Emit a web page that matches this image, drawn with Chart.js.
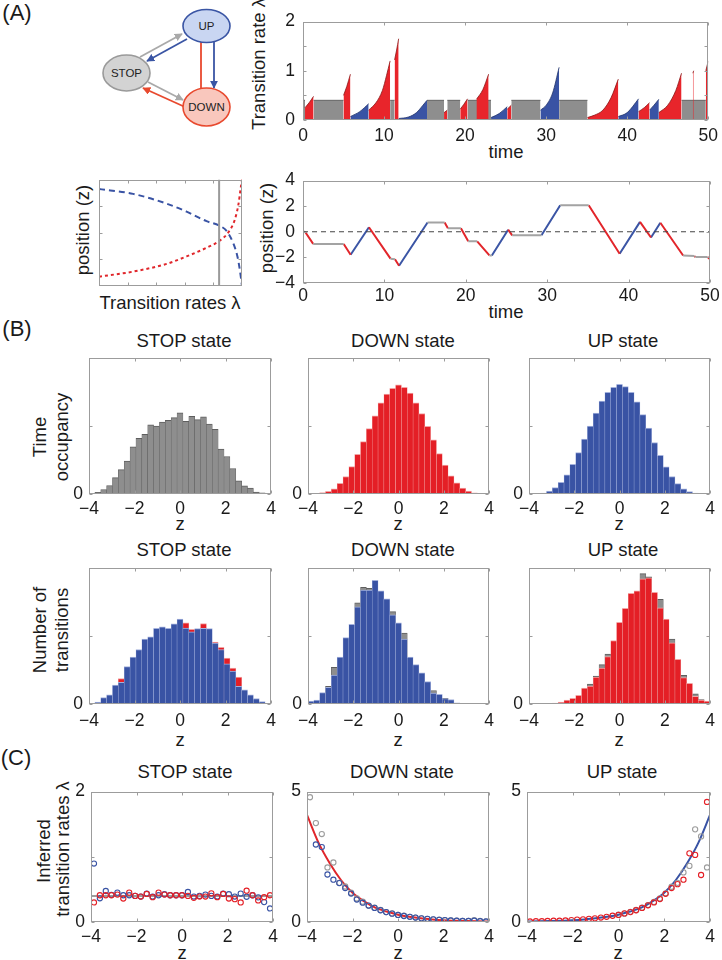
<!DOCTYPE html>
<html><head><meta charset="utf-8">
<script src="https://cdn.jsdelivr.net/npm/chart.js@4.4.1/dist/chart.umd.min.js"></script>
<style>
body{margin:0;background:#fff;width:722px;height:960px;overflow:hidden;position:relative;font-family:"Liberation Sans",Arial,Helvetica,sans-serif;color:#1a1a1a}
.t{position:absolute;transform:translate(-50%,-50%);white-space:nowrap;font-size:18.5px;line-height:1}
.v{transform:translate(-50%,-50%) rotate(-90deg)}
.p{font-size:22px}
canvas{position:absolute}
</style></head><body>
<svg width="250" height="140" style="position:absolute;left:0;top:0">
<defs>
<marker id="ag" viewBox="0 0 10 10" refX="9" refY="5" markerWidth="4.5" markerHeight="4.5" orient="auto"><path d="M0,0L10,5L0,10z" fill="#a9a9a9"/></marker>
<marker id="ab" viewBox="0 0 10 10" refX="9" refY="5" markerWidth="4.5" markerHeight="4.5" orient="auto"><path d="M0,0L10,5L0,10z" fill="#3a55a4"/></marker>
<marker id="ar" viewBox="0 0 10 10" refX="9" refY="5" markerWidth="4.5" markerHeight="4.5" orient="auto"><path d="M0,0L10,5L0,10z" fill="#e8492e"/></marker>
</defs>
<line x1="140" y1="57" x2="182" y2="34" stroke="#a9a9a9" stroke-width="1.8" marker-end="url(#ag)"/>
<line x1="187" y1="39" x2="147" y2="61" stroke="#3a55a4" stroke-width="1.8" marker-end="url(#ab)"/>
<line x1="148" y1="82" x2="183" y2="100" stroke="#a9a9a9" stroke-width="1.8" marker-end="url(#ag)"/>
<line x1="185" y1="107" x2="143" y2="88" stroke="#e8492e" stroke-width="1.8" marker-end="url(#ar)"/>
<line x1="201" y1="89" x2="201" y2="34" stroke="#e8492e" stroke-width="1.8" marker-end="url(#ar)"/>
<line x1="214" y1="42" x2="214" y2="88" stroke="#3a55a4" stroke-width="1.8" marker-end="url(#ab)"/>
<ellipse cx="206.5" cy="26" rx="23.5" ry="16.5" fill="#c9d6f2" stroke="#3a55a4" stroke-width="1.6"/>
<ellipse cx="126.5" cy="73" rx="23.5" ry="18" fill="#d3d3d3" stroke="#9a9a9a" stroke-width="1.6"/>
<ellipse cx="206.5" cy="107" rx="23.5" ry="19" fill="#f9c7bd" stroke="#e8492e" stroke-width="1.6"/>
<text x="206.5" y="30" text-anchor="middle" font-size="11.5" fill="#222">UP</text>
<text x="126.5" y="77" text-anchor="middle" font-size="11.5" fill="#222">STOP</text>
<text x="206.5" y="111" text-anchor="middle" font-size="11.5" fill="#222">DOWN</text>
</svg>

<div class="t p" style="left:17px;top:13px">(A)</div>
<div class="t p" style="left:17px;top:329px">(B)</div>
<div class="t p" style="left:16px;top:758px">(C)</div>

<div class="t v" style="left:259px;top:64px">Transition rate λ</div>
<div class="t" style="left:506px;top:152px">time</div>
<div class="t v" style="left:83px;top:230px">position (z)</div>
<div class="t" style="left:170px;top:303px">Transition rates λ</div>
<div class="t v" style="left:267px;top:228px">position (z)</div>
<div class="t" style="left:506px;top:312px">time</div>

<div class="t" style="left:184px;top:341px">STOP state</div>
<div class="t" style="left:403px;top:341px">DOWN state</div>
<div class="t" style="left:623px;top:341px">UP state</div>
<div class="t v" style="left:40px;top:437px">Time</div>
<div class="t v" style="left:62px;top:437px">occupancy</div>
<div class="t" style="left:180px;top:524px">z</div>
<div class="t" style="left:398px;top:524px">z</div>
<div class="t" style="left:619px;top:524px">z</div>

<div class="t" style="left:184px;top:550px">STOP state</div>
<div class="t" style="left:403px;top:550px">DOWN state</div>
<div class="t" style="left:623px;top:550px">UP state</div>
<div class="t v" style="left:40px;top:630px">Number of</div>
<div class="t v" style="left:62px;top:630px">transitions</div>
<div class="t" style="left:180px;top:740px">z</div>
<div class="t" style="left:398px;top:740px">z</div>
<div class="t" style="left:619px;top:740px">z</div>

<div class="t" style="left:185px;top:772px">STOP state</div>
<div class="t" style="left:402px;top:772px">DOWN state</div>
<div class="t" style="left:622px;top:772px">UP state</div>
<div class="t v" style="left:44px;top:851px">Inferred</div>
<div class="t v" style="left:63px;top:849px">transition rates λ</div>
<div class="t" style="left:182px;top:953px">z</div>
<div class="t" style="left:398px;top:953px">z</div>
<div class="t" style="left:618px;top:953px">z</div>

<script>
// ---------------- DATA ----------------
const TIME_TICKS = [0, 10, 20, 30, 40, 50];
const Z_TICKS = [-4, -2, 0, 2, 4];
const BIN_CENTERS = [-3.87,-3.61,-3.35,-3.10,-2.84,-2.58,-2.32,-2.06,-1.81,-1.55,-1.29,-1.03,-0.77,-0.52,-0.26,0,0.26,0.52,0.77,1.03,1.29,1.55,1.81,2.06,2.32,2.58,2.84,3.10,3.35,3.61,3.87];

// Panel A: transition rate vs time
const STOP_RATE = 0.4;
const RATE_GRAY = [[0,0.25],[1.3,5.0],[10.75,11.3],[15.3,17.4],[17.8,19.4],[20.3,23.2],[25.7,29.3],[31.6,35.1],[46.7,49.7]];
const RATE_RED = [
  [[0.25,0.25],[0.8,0.36],[1.3,0.48]],
  [[5.0,0.5],[5.4,0.68],[5.85,0.93]],
  [[8.1,0.2],[9.0,0.35],[9.8,0.6],[10.3,0.9],[10.75,1.2]],
  [[11.3,1.22],[11.55,1.42],[11.8,1.65]],
  [[17.4,0.15],[17.8,0.2]],
  [[19.4,0.22],[19.85,0.32],[20.3,0.43]],
  [[21.4,0.42],[22.2,0.62],[22.9,0.93]],
  [[25.2,0.22],[25.7,0.3]],
  [[35.1,0.05],[36,0.1],[37,0.2],[38,0.45],[38.9,0.83]],
  [[41.4,0.17],[42.1,0.25],[42.75,0.35]],
  [[43.9,0.15],[45,0.3],[46,0.6],[46.7,0.95]],
  [[48.1,0.95],[48.2,1.0]],
  [[49.7,1.0],[50,1.2]]
];
const RATE_BLUE = [
  [[5.85,0.07],[7.0,0.17],[8.1,0.33]],
  [[11.8,0.03],[13,0.06],[14,0.15],[14.8,0.3],[15.3,0.4]],
  [[23.2,0.05],[24.2,0.13],[25.2,0.27]],
  [[29.3,0.2],[30,0.3],[30.8,0.55],[31.6,1.07]],
  [[38.9,0.07],[40,0.15],[41.4,0.43]],
  [[42.75,0.2],[43.3,0.3],[43.9,0.42]]
];

// Panel A: position trajectory
const TRAJ_T = [0,0.25,1.25,5.0,5.85,8.1,10.75,11.3,11.8,15.3,17.4,17.8,19.4,20.3,21.4,22.9,23.2,25.2,25.7,29.3,31.6,35.1,38.9,41.4,42.75,43.9,46.7,48.1,48.2,49.7,50];
const TRAJ_Z = [0,0,-0.95,-0.95,-1.8,0.35,-2.1,-2.15,-2.65,0.72,0.72,0.28,0.28,-0.75,-0.75,-1.85,-1.85,0.16,-0.28,-0.28,2.07,2.07,-1.72,0.77,-0.45,0.7,-1.85,-1.9,-1.98,-1.98,-2.15];
const TRAJ_STATE = ['G','R','G','R','B','R','G','R','B','G','R','G','R','G','R','G','B','R','G','B','G','R','B','R','B','R','G','R','G','R'];

// Panel A: rate functions vs position
const LAMBDA_UP_X = [0,0.119,0.236,0.306,0.376,0.423,0.446,0.47,0.484,0.493,0.5];
const LAMBDA_UP_Z = [3.28,2.92,2.19,1.59,0.87,0.51,0.14,-0.82,-1.78,-2.87,-4];
const LAMBDA_DOWN_X = [0,0.119,0.236,0.306,0.376,0.423,0.452,0.475,0.488,0.495,0.5];
const LAMBDA_DOWN_Z = [-3.3,-2.92,-2.34,-1.78,-1.13,-0.58,0.02,0.99,2.19,3.28,4];
const STOP_LAMBDA_MARK = 0.42;

// Panel B: time occupancy
const OCC_STOP = [0,0.012,0.033,0.062,0.12,0.178,0.242,0.346,0.408,0.438,0.507,0.498,0.526,0.54,0.559,0.595,0.533,0.569,0.545,0.566,0.512,0.474,0.329,0.275,0.187,0.097,0.059,0.043,0.014,0.009,0.003];
const OCC_DOWN = [0.002,0.005,0.01,0.019,0.038,0.078,0.128,0.2,0.29,0.384,0.479,0.573,0.668,0.732,0.775,0.799,0.782,0.739,0.668,0.59,0.495,0.396,0.296,0.211,0.133,0.081,0.043,0.021,0.009,0.005,0.002];
const OCC_UP = [0.001,0.003,0.007,0.021,0.047,0.085,0.14,0.218,0.303,0.403,0.498,0.592,0.68,0.744,0.782,0.803,0.787,0.744,0.675,0.581,0.483,0.377,0.284,0.199,0.128,0.076,0.038,0.017,0.007,0.003,0.001];

// Panel B: number of transitions
const TR_STOP_BLUE = [0.002,0.014,0.047,0.068,0.139,0.158,0.274,0.344,0.399,0.476,0.493,0.554,0.566,0.554,0.587,0.623,0.557,0.528,0.552,0.554,0.552,0.446,0.399,0.295,0.241,0.13,0.104,0.068,0.04,0.017,0.005];
const TR_STOP_RED = [null,null,null,null,null,0.186,null,null,null,null,null,null,null,null,null,null,0.594,0.547,null,0.59,null,0.453,0.415,0.337,0.264,0.198,null,null,null,null,null];
const TR_DOWN_BLUE = [0.021,0.028,0.083,0.123,0.212,0.344,0.486,0.583,0.712,0.835,0.835,0.906,0.83,0.771,0.653,0.594,0.476,0.344,0.288,0.229,0.165,0.08,0.071,0.04,0.033,0.009,0.005,0.003,0.002,0.002,0.001];
const TR_DOWN_GRAY = [null,null,null,0.13,0.269,null,null,null,0.741,0.854,0.847,null,null,null,0.677,null,0.519,null,null,null,null,0.099,null,0.042,null,null,null,null,null,null,null];
const TR_UP_RED = [0.002,0.003,0.004,0.005,0.007,0.014,0.028,0.042,0.064,0.116,0.132,0.198,0.264,0.347,0.465,0.599,0.7,0.811,0.83,0.917,0.925,0.818,0.705,0.623,0.448,0.328,0.193,0.151,0.057,0.028,0.021];
const TR_UP_GRAY = [null,null,null,null,null,null,null,null,null,null,0.146,0.205,0.288,0.366,null,null,null,null,null,0.955,0.932,null,0.767,null,0.476,null,0.21,null,0.075,0.033,null];

// Panel C: inferred transition rates
const C_STOP_BLUE = [0.896,0.363,0.475,0.416,0.45,0.41,0.41,0.40,0.39,0.435,0.39,0.41,0.426,0.41,0.41,0.41,0.46,0.39,0.40,0.42,0.40,0.39,0.436,0.426,0.39,0.436,0.387,0.41,0.378,0.305,0.208];
const C_STOP_RED = [0.30,0.41,0.41,0.41,0.42,0.36,0.45,0.40,0.39,0.43,0.38,0.45,0.42,0.41,0.41,0.41,0.40,0.37,0.39,0.39,0.44,0.38,0.43,0.36,0.35,0.30,0.48,0.41,0.33,0.38,0.41];
const CURVE_Z = [-4,-3.5,-3,-2.5,-2,-1.5,-1,-0.5,0,0.5,1,1.5,2,2.5,3,3.5,4];
const C_DOWN_CURVE = [4.1,3.05,2.25,1.6,1.12,0.8,0.55,0.4,0.28,0.2,0.14,0.1,0.07,0.05,0.035,0.025,0.018];
const C_DOWN_BLUE = [null,2.97,2.87,1.82,1.62,1.49,1.3,1.09,0.86,0.74,0.63,0.54,0.45,0.38,0.32,0.27,0.23,0.2,0.17,0.14,0.12,0.1,0.08,0.07,0.06,0.05,0.04,0.04,0.05,0.03,0.02];
const C_DOWN_GRAY = [4.78,3.79,3.37,2.09,2.28,1.5,1.36,1.12,0.9,0.78,0.62,0.55,0.46,0.38,0.33,0.27,0.24,0.2,0.17,0.14,0.12,0.1,0.09,0.07,0.06,0.05,0.04,0.04,0.07,0.04,0.02];
const C_UP_CURVE = [0.018,0.025,0.035,0.05,0.07,0.1,0.14,0.2,0.28,0.4,0.55,0.8,1.12,1.6,2.25,3.05,4.1];
const C_UP_RED = [0.02,0.03,0.03,0.04,0.05,0.05,0.06,0.07,0.09,0.1,0.12,0.14,0.17,0.2,0.24,0.27,0.33,0.38,0.45,0.54,0.64,0.75,0.88,1.08,1.3,1.45,1.62,2.63,2.57,1.8,4.6];
const C_UP_GRAY = [null,null,null,null,null,null,null,null,null,null,null,null,null,null,null,0.28,0.32,0.39,0.46,0.55,0.65,0.77,0.9,1.1,1.35,1.5,1.9,2.15,3.55,3.28,2.09];

// ---------------- COLOURS ----------------
const RED = '#e41f26', BLUE = '#3953a4', GRAY = '#8e8e8e';

// ---------------- HELPERS ----------------
Chart.defaults.animation = false;
Chart.defaults.font.family = '"Liberation Sans", Arial, Helvetica, sans-serif';
Chart.defaults.font.size = 17.5;
Chart.defaults.color = '#1a1a1a';
Chart.defaults.plugins.legend.display = false;
Chart.defaults.plugins.tooltip.enabled = false;
Chart.defaults.events = [];

const mbox = {
  id: 'mbox',
  afterDatasetsDraw(chart, args, o) {
    const {ctx, chartArea: a, scales} = chart;
    const xs = scales[o.xId || 'x'], ys = scales.y, tl = 3;
    const L = Math.round(a.left) + 0.5, R = Math.round(a.right) - 0.5, T = Math.round(a.top) + 0.5, B = Math.round(a.bottom) - 0.5;
    ctx.save();
    ctx.strokeStyle = '#9c9c9c'; ctx.lineWidth = 1;
    ctx.strokeRect(L, T, R - L, B - T);
    ctx.beginPath();
    (o.xt || []).forEach(v => { const p = Math.round(xs.getPixelForValue(v)) + 0.5; ctx.moveTo(p, B); ctx.lineTo(p, B - tl); ctx.moveTo(p, T); ctx.lineTo(p, T + tl); });
    (o.yt || []).forEach(v => { const p = Math.round(ys.getPixelForValue(v)) + 0.5; ctx.moveTo(L, p); ctx.lineTo(L + tl, p); ctx.moveTo(R, p); ctx.lineTo(R - tl, p); });
    ctx.stroke();
    ctx.restore();
  }
};

const fmt = v => (v < 0 ? '\u2212' : '') + Math.abs(v);
function lin(min, max, ticks, labelFn, pad, extra) {
  return Object.assign({
    type: 'linear', min, max, offset: false,
    grid: {display: false, drawTicks: false, offset: false}, border: {display: false},
    afterBuildTicks: s => { s.ticks = ticks.map(v => ({value: v})); },
    ticks: {padding: pad, maxRotation: 0, autoSkip: false, callback: v => labelFn(v)}
  }, extra || {});
}

function mk(rect, config, pads) {
  const [L, T, R, B] = rect;
  const [pl, pt, pr, pb] = pads || [40, 12, 14, 40];
  const W = R - L + pl + pr, H = B - T + pt + pb;
  const c = document.createElement('canvas');
  c.width = W; c.height = H;
  c.style.left = (L - pl) + 'px'; c.style.top = (T - pt) + 'px';
  c.style.width = W + 'px'; c.style.height = H + 'px';
  document.body.appendChild(c);
  const o = config.options;
  o.responsive = false; o.devicePixelRatio = 1;
  o.layout = {padding: {left: 0, top: pt, right: pr, bottom: 0}, autoPadding: false};
  for (const [id, s] of Object.entries(o.scales)) {
    if (s.display === false) continue;
    const horiz = s.position ? (s.position === 'bottom' || s.position === 'top') : id.startsWith('x');
    s.afterFit = sc => { if (horiz) sc.height = pb; else sc.width = pl; };
  }
  config.plugins = [mbox];
  return new Chart(c, config);
}

function segData(segs) {
  const out = [];
  segs.forEach(s => { s.forEach(p => out.push({x: p[0], y: p[1]})); out.push({x: s[s.length - 1][0], y: null}); });
  return out;
}
function trajData(state) {
  const out = [];
  for (let i = 0; i < TRAJ_STATE.length; i++) if (TRAJ_STATE[i] === state) {
    out.push({x: TRAJ_T[i], y: TRAJ_Z[i]}, {x: TRAJ_T[i + 1], y: TRAJ_Z[i + 1]}, {x: TRAJ_T[i + 1], y: null});
  }
  return out;
}
const pts = (xs, ys) => xs.map((x, i) => ({x, y: ys[i]}));

// ---------------- PANEL A ----------------
mk([303, 15, 710, 120], {
  type: 'line',
  data: {datasets: [
    {data: segData(RATE_GRAY.map(g => [[g[0], STOP_RATE], [g[1], STOP_RATE]])), fill: 'origin', backgroundColor: '#8e8e8e', borderColor: '#505050', borderWidth: 0.8, pointRadius: 0, order: 3},
    {data: segData(RATE_RED), fill: 'origin', backgroundColor: '#e8252b', borderColor: '#8a1515', borderWidth: 0.8, pointRadius: 0, cubicInterpolationMode: 'monotone', order: 1},
    {data: segData(RATE_BLUE), fill: 'origin', backgroundColor: BLUE, borderColor: '#22336a', borderWidth: 0.8, pointRadius: 0, cubicInterpolationMode: 'monotone', order: 2}
  ]},
  options: {spanGaps: false, scales: {
    x: lin(0, 50, TIME_TICKS, fmt, 6),
    y: lin(0, 2, [0, 1, 2], fmt, 8)
  }, plugins: {mbox: {xt: TIME_TICKS, yt: [0, 0.5, 1, 1.5, 2]}}}
});

mk([99, 175, 242, 286], {
  type: 'line',
  data: {datasets: [
    {data: [{x: STOP_LAMBDA_MARK, y: -4}, {x: STOP_LAMBDA_MARK, y: 4}], borderColor: '#9a9a9a', borderWidth: 2, pointRadius: 0},
    {data: pts(LAMBDA_UP_X, LAMBDA_UP_Z), borderColor: BLUE, borderWidth: 2, borderDash: [6, 4], pointRadius: 0, cubicInterpolationMode: 'monotone'},
    {data: pts(LAMBDA_DOWN_X, LAMBDA_DOWN_Z), borderColor: '#e0262b', borderWidth: 2, borderDash: [3, 3], pointRadius: 0, cubicInterpolationMode: 'monotone'}
  ]},
  options: {scales: {
    x: lin(0, 0.5, [0, 0.1, 0.2, 0.3, 0.4, 0.5], () => '', 6),
    y: lin(-4, 4, Z_TICKS, () => '', 6)
  }, plugins: {mbox: {xt: [0.1, 0.2, 0.3, 0.4], yt: [-2, 0, 2]}}}
});

mk([303, 174, 710, 283], {
  type: 'line',
  data: {datasets: [
    {data: [{x: 0, y: 0}, {x: 50, y: 0}], borderColor: '#444', borderWidth: 1, borderDash: [5, 4], pointRadius: 0},
    {data: trajData('G'), borderColor: '#a3a3a3', borderWidth: 2, pointRadius: 0},
    {data: trajData('R'), borderColor: '#e2262b', borderWidth: 2, pointRadius: 0},
    {data: trajData('B'), borderColor: '#3b55a5', borderWidth: 2, pointRadius: 0}
  ]},
  options: {spanGaps: false, scales: {
    x: lin(0, 50, TIME_TICKS, fmt, 3),
    y: lin(-4, 4, Z_TICKS, fmt, 8)
  }, plugins: {mbox: {xt: TIME_TICKS, yt: Z_TICKS}}}
});

// ---------------- PANEL B ----------------
function barChart(rect, datasets, xpad) {
  return mk(rect, {
    type: 'bar',
    data: {labels: BIN_CENTERS.map(String), datasets: datasets.map(d => Object.assign({
      grouped: false, barPercentage: 1, categoryPercentage: 1,
      borderWidth: {top: 1, left: 0.5, right: 0.5, bottom: 0}, borderSkipped: false
    }, d))},
    options: {scales: {
      x: {type: 'category', display: false, offset: true},
      x2: lin(-4, 4, Z_TICKS, fmt, xpad, {position: 'bottom'}),
      y: lin(0, 1, [0, 0.5, 1], v => v === 0 ? '0' : '', 6)
    }, plugins: {mbox: {xId: 'x2', xt: Z_TICKS, yt: [0, 0.5, 1]}}}
  });
}
const GB = {backgroundColor: GRAY, borderColor: '#5e5e5e'};
const RB = {backgroundColor: RED, borderColor: '#f2a3a3'};
const BB = {backgroundColor: BLUE, borderColor: '#a3b1dc'};

barChart([89, 353, 271, 494], [Object.assign({data: OCC_STOP}, GB)], 5);
barChart([308, 353, 489, 494], [Object.assign({data: OCC_DOWN}, RB)], 5);
barChart([529, 353, 710, 494], [Object.assign({data: OCC_UP}, BB)], 5);

barChart([89, 563, 271, 704], [Object.assign({data: TR_STOP_BLUE, order: 1}, BB), Object.assign({data: TR_STOP_RED, order: 2}, RB)], 7);
barChart([308, 563, 489, 704], [Object.assign({data: TR_DOWN_BLUE, order: 1}, BB), Object.assign({data: TR_DOWN_GRAY, order: 2}, GB)], 7);
barChart([529, 563, 710, 704], [Object.assign({data: TR_UP_RED, order: 1}, RB), Object.assign({data: TR_UP_GRAY, order: 2}, GB)], 7);

// ---------------- PANEL C ----------------
function circles(vals, color, order) {
  return {data: BIN_CENTERS.map((x, i) => ({x, y: vals[i]})), showLine: false, pointStyle: 'circle', pointRadius: 2.6,
    pointBorderWidth: 1.1, borderColor: color, backgroundColor: 'rgba(0,0,0,0)', order};
}
function cChart(rect, ymax, datasets) {
  return mk(rect, {
    type: 'scatter',
    data: {datasets},
    options: {scales: {
      x: lin(-4, 4, Z_TICKS, fmt, 5),
      y: lin(0, ymax, [0, ymax / 2, ymax], v => (v === 0 || v === ymax) ? String(v) : '', 6)
    }, plugins: {mbox: {xt: Z_TICKS, yt: [0, ymax / 2, ymax]}}}
  });
}
cChart([91, 787, 273, 922], 2, [
  {data: [{x: -4, y: STOP_RATE}, {x: 4, y: STOP_RATE}], showLine: true, borderColor: '#9c9c9c', borderWidth: 2, pointRadius: 0, order: 5},
  circles(C_STOP_BLUE, BLUE, 3),
  circles(C_STOP_RED, RED, 2)
]);
cChart([307, 787, 489, 922], 5, [
  {data: pts(CURVE_Z, C_DOWN_CURVE), showLine: true, borderColor: '#e0262b', borderWidth: 2, pointRadius: 0, cubicInterpolationMode: 'monotone', order: 5},
  circles(C_DOWN_GRAY, '#9c9c9c', 4),
  circles(C_DOWN_BLUE, BLUE, 3)
]);
cChart([527, 787, 710, 922], 5, [
  {data: pts(CURVE_Z, C_UP_CURVE), showLine: true, borderColor: BLUE, borderWidth: 2, pointRadius: 0, cubicInterpolationMode: 'monotone', order: 5},
  circles(C_UP_GRAY, '#9c9c9c', 4),
  circles(C_UP_RED, RED, 3)
]);
</script>
</body></html>
